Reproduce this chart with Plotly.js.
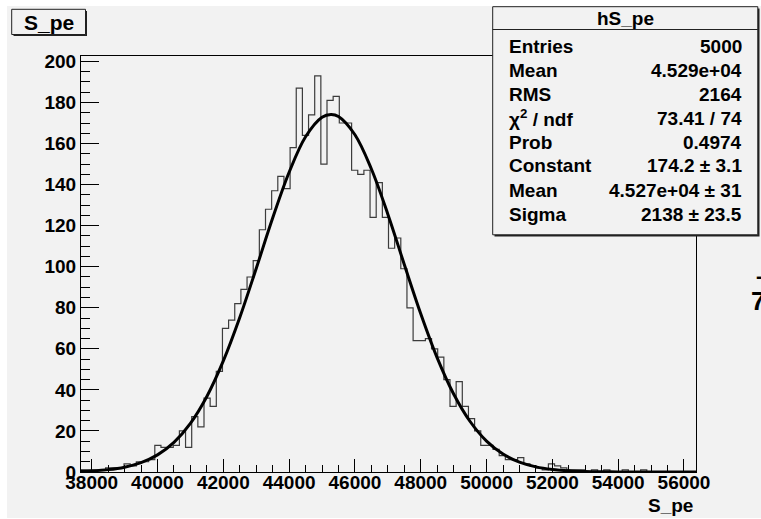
<!DOCTYPE html>
<html><head><meta charset="utf-8">
<script src="https://cdn.plot.ly/plotly-3.0.1.min.js"></script>
<style>html,body{margin:0;padding:0;background:#ffffff;}#chart{width:761px;height:519px;}</style>
</head><body><div id="chart"></div>
<script>
// ---- data ----
const binLow = 37675;      // lower edge of the histogram
const binWidth = 186.9;    // 100 bins
const counts = [
  1, 1, 1, 1, 2, 2, 2, 4, 3, 5,
  5, 6, 13, 12, 12, 13, 20, 12, 27, 22,
  36, 32, 49, 70, 74, 82, 89, 95, 103, 118,
  128, 137, 144, 138, 158, 187, 164, 174, 193, 150,
  181, 183, 170, 170, 147, 145, 147, 124, 141, 124,
  109, 114, 99, 80, 64, 64, 65, 60, 56, 45,
  32, 44, 32, 26, 20, 13, 13, 11, 8, 6,
  6, 7, 4, 3, 2, 1, 4, 3, 2, 1,
  1, 1, 0, 1, 0, 1, 0, 0, 1, 0,
  0, 1, 0, 0, 0, 0, 0, 0, 0, 0
];
const fitX = [37675, 38000, 38500, 39000, 39500, 40000, 40500, 41000, 41500, 42000,
  42500, 43000, 43500, 44000, 44500, 45000, 45270, 45500, 46000, 46500,
  47000, 47500, 48000, 48500, 49000, 49500, 50000, 50500, 51000, 51500,
  52000, 52500, 53000, 53500, 54000, 54500, 55000, 55500, 56000, 56365];
const fitY = [0.32, 0.54, 1.16, 2.36, 4.56, 8.35, 14.46, 23.71, 36.8, 54.1,
  75.25, 99.15, 123.7, 146.0, 163.3, 172.8, 174.2, 173.2, 164.3, 147.6,
  125.6, 101.1, 77.1, 55.6, 38.0, 24.6, 15.07, 8.74, 4.80, 2.50,
  1.23, 0.57, 0.25, 0.106, 0.042, 0.015, 0.005, 0.0015, 0.0004, 0.0001];
const xTickVals = [38000, 40000, 42000, 44000, 46000, 48000, 50000, 52000, 54000, 56000];
const yTickVals = [0, 20, 40, 60, 80, 100, 120, 140, 160, 180, 200];
const histTitle = 'S_pe';
const xTitle = 'S_pe';
const statsTitle = 'hS_pe';
const statLabels = ['Entries', 'Mean', 'RMS', '&#967;<sup>2</sup> / ndf', 'Prob', 'Constant', 'Mean', 'Sigma'];
const statValues = ['5000', '4.529e+04', '2164', '73.41 / 74', '0.4974', '174.2 &#177; 3.1', '4.527e+04 &#177; 31', '2138 &#177; 23.5'];

// ---- build step outline from bins ----
const stepX = [], stepY = [];
for (let i = 0; i < counts.length; i++) { stepX.push(binLow + i * binWidth); stepY.push(counts[i]); }
stepX.push(binLow + counts.length * binWidth); stepY.push(counts[counts.length - 1]);

// pixel helpers (plot area: x 81..696, y 56..472)
const L = 81, R = 696, T = 56, B = 472;
const px = v => (v - L) / (R - L);
const py = v => (B - v) / (B - T);

const FONT = 'Liberation Sans, Arial, Helvetica, sans-serif';
const PAD = '#f2f2f2';

const traces = [
  { x: stepX, y: stepY, type: 'scatter', mode: 'lines', line: { shape: 'hv', color: '#3c3c3c', width: 1.2 }, hoverinfo: 'skip', showlegend: false },
  { x: fitX, y: fitY, type: 'scatter', mode: 'lines', line: { shape: 'spline', color: '#000000', width: 3 }, hoverinfo: 'skip', showlegend: false }
];

const shapes = [
  { type: 'rect', xref: 'paper', yref: 'paper', x0: px(7), x1: px(761), y0: py(6), y1: py(518), fillcolor: PAD, line: { width: 0 }, layer: 'below' },
  // title box
  { type: 'rect', xref: 'paper', yref: 'paper', x0: px(13.5), x1: px(87), y0: py(11), y1: py(36), fillcolor: '#222', line: { width: 0 }, layer: 'above' },
  { type: 'rect', xref: 'paper', yref: 'paper', x0: px(11.7), x1: px(85.5), y0: py(9.3), y1: py(34.5), fillcolor: PAD, line: { color: '#222', width: 1 }, layer: 'above' },
  // stats box
  { type: 'rect', xref: 'paper', yref: 'paper', x0: px(494.5), x1: px(759.5), y0: py(8.5), y1: py(236.5), fillcolor: '#222', line: { width: 0 }, layer: 'above' },
  { type: 'rect', xref: 'paper', yref: 'paper', x0: px(492.7), x1: px(757.8), y0: py(6.7), y1: py(234.8), fillcolor: PAD, line: { color: '#222', width: 1 }, layer: 'above' },
  { type: 'line', xref: 'paper', yref: 'paper', x0: px(492.7), x1: px(757.8), y0: py(29.5), y1: py(29.5), line: { color: '#222', width: 1 }, layer: 'above' }
];

const annotations = [
  { xref: 'paper', yref: 'paper', x: px(48.6), y: py(22), xanchor: 'center', yanchor: 'middle', text: '<b>' + histTitle + '</b>', showarrow: false, font: { family: FONT, size: 21, color: '#000' } },
  { xref: 'paper', yref: 'paper', x: px(695), y: py(505), xanchor: 'right', yanchor: 'middle', text: '<b>' + xTitle + '</b>', showarrow: false, font: { family: FONT, size: 19, color: '#000' } },
  { xref: 'paper', yref: 'paper', x: px(625.5), y: py(19), xanchor: 'center', yanchor: 'middle', text: '<b>' + statsTitle + '</b>', showarrow: false, font: { family: FONT, size: 19, color: '#000' } },
  { xref: 'paper', yref: 'paper', x: px(749), y: py(301), xanchor: 'left', yanchor: 'middle', text: '<b>7</b>', showarrow: false, font: { family: FONT, size: 26, color: '#000' } },
  { xref: 'paper', yref: 'paper', x: px(754), y: py(276), xanchor: 'left', yanchor: 'middle', text: '<b>-</b>', showarrow: false, font: { family: FONT, size: 20, color: '#000' } }
];
for (let i = 0; i < statLabels.length; i++) {
  const yc = 46 + 24 * i;
  annotations.push({ xref: 'paper', yref: 'paper', x: px(506.5), y: py(yc), xanchor: 'left', yanchor: 'middle', text: '<b>' + statLabels[i] + '</b>', showarrow: false, font: { family: FONT, size: 19, color: '#000' } });
  annotations.push({ xref: 'paper', yref: 'paper', x: px(744), y: py(yc), xanchor: 'right', yanchor: 'middle', text: '<b>' + statValues[i] + '</b>', showarrow: false, font: { family: FONT, size: 19, color: '#000' } });
}

const layout = {
  width: 761, height: 519, autosize: false,
  margin: { l: L, r: 761 - R, t: T, b: 519 - B, pad: 0 },
  paper_bgcolor: '#ffffff', plot_bgcolor: PAD,
  showlegend: false,
  font: { family: FONT, color: '#000' },
  xaxis: {
    range: [binLow, binLow + counts.length * binWidth], autorange: false,
    tickvals: xTickVals, ticktext: xTickVals.map(String),
    ticks: 'inside', ticklen: 13, tickwidth: 1, tickcolor: '#000',
    minor: { dtick: 500, tick0: 38000, ticks: 'inside', ticklen: 7, tickwidth: 1, tickcolor: '#000', showgrid: false },
    showline: true, linecolor: '#000', linewidth: 1, mirror: true,
    showgrid: false, zeroline: false,
    tickfont: { family: FONT, size: 19, color: '#000', weight: 'bold' },
    ticklabelstandoff: -7
  },
  yaxis: {
    range: [0, 202.65], autorange: false,
    tickvals: yTickVals, ticktext: yTickVals.map(String),
    ticks: 'inside', ticklen: 18, tickwidth: 1, tickcolor: '#000',
    minor: { dtick: 5, tick0: 0, ticks: 'inside', ticklen: 9, tickwidth: 1, tickcolor: '#000', showgrid: false },
    showline: true, linecolor: '#000', linewidth: 1, mirror: true,
    showgrid: false, zeroline: false,
    tickfont: { family: FONT, size: 19, color: '#000', weight: 'bold' },
    ticklabelstandoff: 0
  },
  shapes: shapes,
  annotations: annotations
};

Plotly.newPlot('chart', traces, layout, { staticPlot: true, displayModeBar: false });
</script>
</body></html>
